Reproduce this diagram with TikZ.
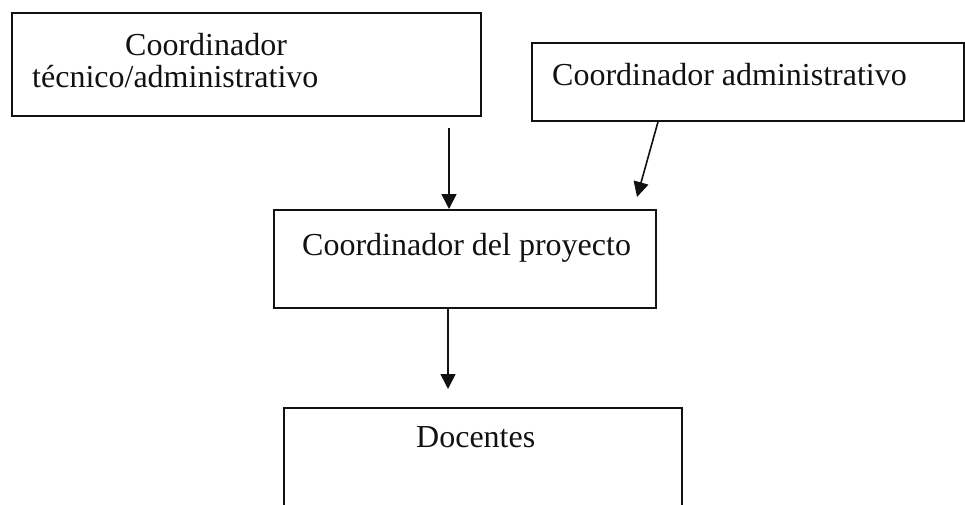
\documentclass[tikz,border=0pt]{standalone}
\usepackage{fontspec}
\setmainfont{Liberation Serif}
\usetikzlibrary{arrows.meta}
\definecolor{scanink}{HTML}{111111}

\begin{document}
\begin{tikzpicture}[x=1pt, y=-1pt, every node/.style={font=\fontsize{32}{30}\selectfont, text=scanink},
  orgbox/.style={draw=scanink, line width=1.8pt, rectangle, anchor=north west, inner sep=0pt},
  boxtext/.style={anchor=base west, inner sep=0pt},
  flow/.style={draw=scanink, line width=1.6pt, -{Triangle[length=15pt, width=15pt]}}]

  \path[use as bounding box, clip] (0,0) rectangle (965,504);

  % boxes of the chart
  \node[orgbox, minimum width=469pt, minimum height=103pt] (tecnico) at (11,12) {};
  \node[orgbox, minimum width=432pt, minimum height=78pt] (admin) at (531,42) {};
  \node[orgbox, minimum width=382pt, minimum height=98pt] (proyecto) at (273,209) {};
  \node[orgbox, minimum width=398pt, minimum height=120pt] (docentes) at (283,407) {};

  \node[boxtext] (tecnicoA) at (125,55) {Coordinador};
  \node[boxtext] (tecnicoB) at (32,87) {técnico/administrativo};
  \node[boxtext] (admintxt) at (552,85) {Coordinador administrativo};
  \node[boxtext] (proyectotxt) at (302,255) {Coordinador del proyecto};
  \node[boxtext] (docentestxt) at (416,447) {Docentes};

  % arrows
  \coordinate (fromTecnico) at (449,128);
  \coordinate (toProyecto) at (637,197);
  \coordinate (toDocentes) at (448,389);
  \draw[flow] (fromTecnico) -- (fromTecnico |- proyecto.north);
  \draw[flow] ([xshift=127pt]admin.south west) -- (toProyecto);
  \draw[flow] (proyecto.south -| toDocentes) -- (toDocentes);

\end{tikzpicture}
\end{document}
